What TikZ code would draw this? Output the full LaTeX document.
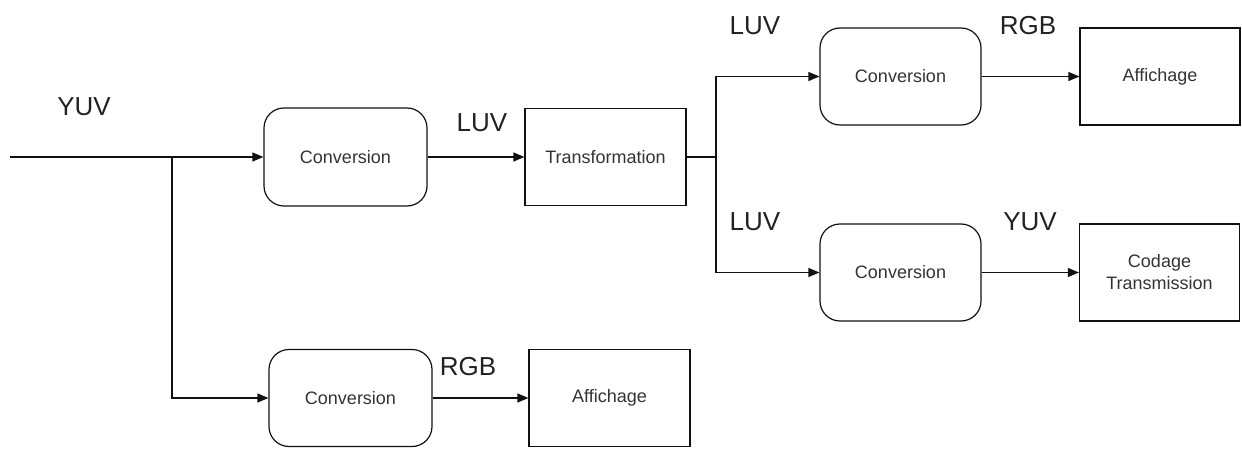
\documentclass[tikz,border=0pt]{standalone}
\usepackage{fontspec}
\setmainfont{Liberation Sans}
\usetikzlibrary{arrows.meta}
\definecolor{txt}{HTML}{333333}
\definecolor{lbl}{HTML}{222222}
\definecolor{ln}{HTML}{111111}
\tikzset{
  box/.style={draw=ln, line width=1.2pt, minimum width=161pt, minimum height=97pt,
    inner sep=0pt, align=center, text=txt, font=\fontsize{18}{22}\selectfont},
  rbox/.style={box, rounded corners=20pt},
  lab/.style={text=lbl, font=\fontsize{26}{28}\selectfont, inner sep=0pt},
  wire/.style={draw=ln, line width=1.2pt},
  arr/.style={wire, -{Triangle[length=11pt,width=9pt]}}
}
\begin{document}
\begin{tikzpicture}[x=1pt,y=-1pt]
\useasboundingbox (0,0) rectangle (1242,449);
% nodes
\node[rbox, minimum width=163pt, minimum height=98pt] (conv1) at (345.5,157) {Conversion};
\node[box] (trans) at (605.5,157) {Transformation};
\node[rbox] (convA) at (900.5,76.5) {Conversion};
\node[box, minimum width=160pt] (affA) at (1160,76.5) {Affichage};
\node[rbox] (convB) at (900.5,272.5) {Conversion};
\node[box, minimum width=160pt] (cod) at (1159.5,272.5) {Codage\\Transmission};
\node[rbox, minimum width=163pt] (convC) at (350.5,398) {Conversion};
\node[box] (affC) at (609.5,398) {Affichage};
% junctions
\coordinate (in) at (10,157);
\coordinate (b1) at (172,157);
\coordinate (j) at (716,157);
% labels
\node[lab] (lyuv) at (84,107) {YUV};
\node[lab] (lluv1) at (482,123) {LUV};
\node[lab] (lluvA) at (755,26) {LUV};
\node[lab] (lrgbA) at (1028,26) {RGB};
\node[lab] (lluvB) at (755,222) {LUV};
\node[lab] (lyuvB) at (1030,222) {YUV};
\node[lab] (lrgbC) at (468,367) {RGB};
% connectors
\draw[arr] (in) -- (conv1.west);
\draw[arr] (b1) |- (convC.west);
\draw[arr] (conv1.east) -- (trans.west);
\draw[wire] (trans.east) -- (j);
\draw[arr] (j) |- (convA.west);
\draw[arr] (j) |- (convB.west);
\draw[arr] (convA.east) -- (affA.west);
\draw[arr] (convB.east) -- (cod.west);
\draw[arr] (convC.east) -- (affC.west);
\end{tikzpicture}
\end{document}
